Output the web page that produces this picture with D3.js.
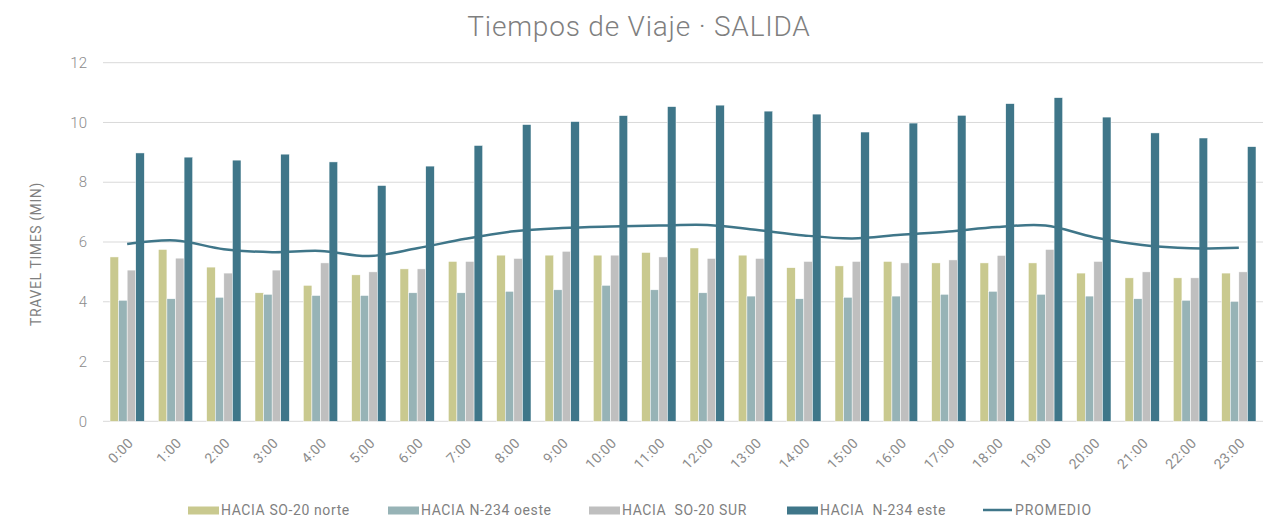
<!DOCTYPE html>
<html>
<head>
<meta charset="utf-8">
<script src="https://cdn.jsdelivr.net/npm/d3@7"></script>
<style>
  body { margin: 0; background: #fff; }
  svg { font-family: Roboto, "DejaVu Sans", sans-serif; }
</style>
</head>
<body>
<div id="chart"></div>
<script>
// hours on the x axis
var hours = ["0:00","1:00","2:00","3:00","4:00","5:00","6:00","7:00","8:00","9:00","10:00","11:00",
             "12:00","13:00","14:00","15:00","16:00","17:00","18:00","19:00","20:00","21:00","22:00","23:00"];

// travel times (min)
var so20Norte = [5.50,5.75,5.16,4.30,4.55,4.90,5.10,5.35,5.56,5.56,5.56,5.65,5.80,5.56,5.14,5.20,5.35,5.30,5.30,5.30,4.96,4.80,4.80,4.96];
var n234Oeste = [4.05,4.10,4.15,4.25,4.21,4.21,4.30,4.30,4.35,4.40,4.55,4.40,4.30,4.19,4.10,4.15,4.19,4.25,4.35,4.25,4.19,4.10,4.05,4.01];
var so20Sur   = [5.06,5.46,4.96,5.06,5.30,5.00,5.10,5.35,5.45,5.69,5.56,5.50,5.45,5.45,5.35,5.35,5.30,5.40,5.55,5.75,5.35,5.00,4.80,5.00];
var n234Este  = [8.98,8.84,8.74,8.94,8.68,7.89,8.54,9.23,9.93,10.03,10.23,10.53,10.58,10.38,10.28,9.68,9.98,10.24,10.63,10.83,10.18,9.65,9.48,9.19];
var promedio  = [5.93,6.05,5.76,5.66,5.70,5.53,5.79,6.11,6.36,6.47,6.52,6.55,6.57,6.41,6.22,6.12,6.24,6.35,6.50,6.55,6.16,5.90,5.79,5.81];

var seriesNames = ["HACIA SO-20 norte", "HACIA N-234 oeste", "HACIA  SO-20 SUR", "HACIA  N-234 este"];
var seriesColors = ["#c9c98f", "#97b3b6", "#bfbfbf", "#3f7689"];
var yTicks = [0, 2, 4, 6, 8, 10, 12];

var width = 1271, height = 520;
var margin = {top: 62.7, right: 8, bottom: 98.7, left: 103};

var svg = d3.select("#chart").append("svg")
  .attr("width", width)
  .attr("height", height);

var x0 = d3.scaleBand()
  .domain(hours)
  .range([margin.left, width - margin.right])
  .paddingInner(0.29)
  .paddingOuter(0.145);

var x1 = d3.scaleBand()
  .domain(d3.range(4))
  .range([0, x0.bandwidth()]);

var y = d3.scaleLinear()
  .domain([0, 12])
  .range([height - margin.bottom, margin.top]);

// gridlines
svg.append("g")
  .selectAll("line")
  .data(yTicks).enter()
  .append("line")
    .attr("x1", margin.left)
    .attr("x2", width - margin.right)
    .attr("y1", function (d) { return y(d); })
    .attr("y2", function (d) { return y(d); })
    .attr("stroke", "#d9d9d9")
    .attr("stroke-width", 1);

// y tick labels
svg.append("g")
  .selectAll("text")
  .data(yTicks).enter()
  .append("text")
    .attr("x", 87)
    .attr("y", function (d) { return y(d); })
    .attr("dy", "0.35em")
    .attr("text-anchor", "end")
    .attr("fill", "#8c8c8c")
    .style("font-size", "15px")
    .style("font-weight", 300)
    .text(function (d) { return d; });

// y axis title
svg.append("text")
  .attr("transform", "translate(41,254) rotate(-90)")
  .attr("text-anchor", "middle")
  .attr("fill", "#7f7f7f")
  .style("font-size", "14px")
  .style("letter-spacing", "0.6px")
  .text("TRAVEL TIMES (MIN)");

// bars
var seriesData = [so20Norte, n234Oeste, so20Sur, n234Este];
var groups = svg.append("g")
  .selectAll("g")
  .data(hours).enter()
  .append("g")
    .attr("transform", function (d) { return "translate(" + x0(d) + ",0)"; });

groups.selectAll("rect")
  .data(function (d, i) { return seriesData.map(function (s, k) { return {k: k, v: s[i]}; }); })
  .enter()
  .append("rect")
    .attr("x", function (d) { return x1(d.k); })
    .attr("width", x1.bandwidth())
    .attr("y", function (d) { return y(d.v); })
    .attr("height", function (d) { return y(0) - y(d.v); })
    .attr("fill", function (d) { return seriesColors[d.k]; })
    .attr("stroke", "#ffffff")
    .attr("stroke-width", 0.5);

// average line (smoothed)
var line = d3.line()
  .x(function (d, i) { return x0(hours[i]) + x0.bandwidth() / 2; })
  .y(function (d) { return y(d); })
  .curve(d3.curveCatmullRom.alpha(0.5));

svg.append("path")
  .datum(promedio)
  .attr("d", line)
  .attr("fill", "none")
  .attr("stroke", "#3f7689")
  .attr("stroke-width", 2.5);

// x labels, rotated
svg.append("g")
  .selectAll("text")
  .data(hours).enter()
  .append("text")
    .attr("transform", function (d) {
      return "translate(" + (x0(d) + x0.bandwidth() / 2 + 0) + ",437) rotate(-45)";
    })
    .attr("text-anchor", "end")
    .attr("dy", "0.7em")
    .attr("fill", "#8c8c8c")
    .style("font-size", "14px")
    .style("letter-spacing", "0.4px")
    .text(function (d) { return d; });

// title
svg.append("text")
  .attr("x", 639)
  .attr("y", 36)
  .attr("text-anchor", "middle")
  .attr("fill", "#7f7f7f")
  .style("font-size", "28px")
  .style("font-weight", 300)
  .style("letter-spacing", "0.8px")
  .text("Tiempos de Viaje · SALIDA");

// legend
var legendX = [188, 388, 589, 787];
var legend = svg.append("g");
seriesNames.forEach(function (name, k) {
  legend.append("rect")
    .attr("x", legendX[k])
    .attr("y", 506.5)
    .attr("width", 31)
    .attr("height", 8)
    .attr("fill", seriesColors[k]);
  legend.append("text")
    .attr("x", legendX[k] + 33)
    .attr("y", 515)
    .attr("fill", "#7f7f7f")
    .style("font-size", "14px")
    .style("letter-spacing", "0.6px")
    .style("white-space", "pre")
    .text(name);
});
legend.append("line")
  .attr("x1", 983).attr("x2", 1012)
  .attr("y1", 510).attr("y2", 510)
  .attr("stroke", "#3f7689")
  .attr("stroke-width", 2.5);
legend.append("text")
  .attr("x", 1015)
  .attr("y", 515)
  .attr("fill", "#7f7f7f")
  .style("font-size", "14px")
  .style("letter-spacing", "0.9px")
  .text("PROMEDIO");
</script>
</body>
</html>
